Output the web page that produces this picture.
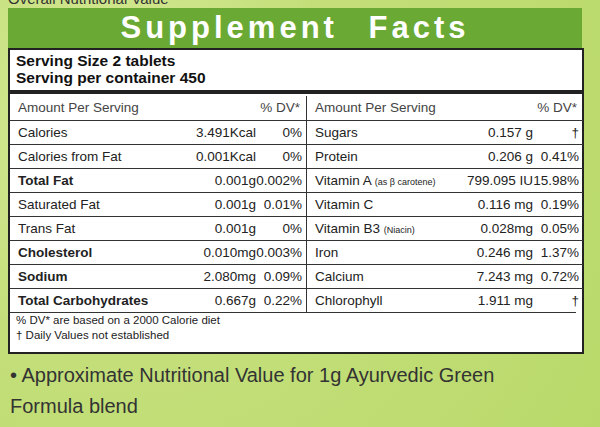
<!DOCTYPE html>
<html><head><meta charset="utf-8">
<script src="https://cdn.jsdelivr.net/npm/chart.js@4"></script>
<style>
body{margin:0;width:600px;height:427px;overflow:hidden;font-family:"Liberation Sans",Arial,sans-serif;
background:radial-gradient(circle at 20% 30%,#d9ec9c 0,#c4df7a 40%,#b9d96a 100%);position:relative}
#top{position:absolute;left:8px;top:-9px;font-size:15px;line-height:16px;color:#333}
#banner{position:absolute;left:8px;top:8px;width:574px;height:40px;background:#6aaa34;color:#fff;
font-weight:bold;font-size:31px;letter-spacing:4px;text-align:center;line-height:40px;word-spacing:18px}
#box{position:absolute;left:8px;top:48px;width:572px;height:302px;background:#fff;border:2px solid #222}
#serv{position:absolute;left:6px;top:2px;font-weight:bold;font-size:15.5px;line-height:17px;color:#111}
#hr1{position:absolute;left:0;top:40px;width:572px;border-top:4px solid #222}
.col{position:absolute;top:46px;font-size:13.5px;color:#222;font-family:"Liberation Sans Narrow","Arial Narrow","Liberation Sans",sans-serif}
.row{position:absolute;height:23px;line-height:23px;border-top:1px solid #333}
.row span{position:absolute}
#note{position:absolute;left:0;top:262px;width:560px;padding-left:6px;font-size:11.5px;line-height:15px;color:#222;border-top:1px solid #333}
#bot{position:absolute;left:10px;top:360px;font-size:20px;line-height:31px;color:#333}
</style></head><body>
<div id="top">Overall Nutritional Value</div>
<div id="banner">Supplement Facts</div>
<div id="box">
 <div id="serv">Serving Size 2 tablets<br>Serving per container 450</div>
 <div id="hr1"></div>
 <div id="L" class="col" style="left:0;width:296px"></div>
 <div id="R" class="col" style="left:296px;width:276px;border-left:1px solid #333;height:216px"></div>
 <div id="note">% DV* are based on a 2000 Calorie diet<br>† Daily Values not established</div>
</div>
<div id="bot">• Approximate Nutritional Value for 1g Ayurvedic Green<br>Formula blend</div>
<canvas id="c" width="1" height="1" style="position:absolute;left:-10px"></canvas>
<script>
const leftNames=["Calories","Calories from Fat","Total Fat","Saturated Fat","Trans Fat","Cholesterol","Sodium","Total Carbohydrates"];
const leftBold=[false,false,true,false,false,true,true,true];
const leftValues=["3.491Kcal","0.001Kcal","0.001g","0.001g","0.001g","0.010mg","2.080mg","0.667g"];
const leftDV=["0%","0%","0.002%","0.01%","0%","0.003%","0.09%","0.22%"];
const rightNames=["Sugars","Protein","Vitamin A <small style='font-size:9px'>(as β carotene)</small>","Vitamin C","Vitamin B3 <small style='font-size:9px'>(Niacin)</small>","Iron","Calcium","Chlorophyll"];
const rightValues=["0.157 g","0.206 g","799.095 IU","0.116 mg","0.028mg","0.246 mg","7.243 mg","1.911 mg"];
const rightDV=["†","0.41%","15.98%","0.19%","0.05%","1.37%","0.72%","†"];
function build(id,names,vals,dvs,bold,w,vx){
 const el=document.getElementById(id);
 let h=`<div class="row" style="top:0;width:${w}px;border-top:none;color:#444"><span style="left:8px">Amount Per Serving</span><span style="right:6px">% DV*</span></div>`;
 names.forEach((n,i)=>{
  h+=`<div class="row" style="top:${24+i*24}px;width:${w}px;height:23px;line-height:23px"><span style="left:8px;${bold[i]?'font-weight:bold':''}">${n}</span><span style="right:${vx}px">${vals[i]}</span><span style="right:4px">${dvs[i]}</span></div>`;
 });
 el.innerHTML=h;
}
build("L",leftNames,leftValues,leftDV,leftBold,296,50);
build("R",rightNames,rightValues,rightDV,[],276,50);
</script></body></html>
